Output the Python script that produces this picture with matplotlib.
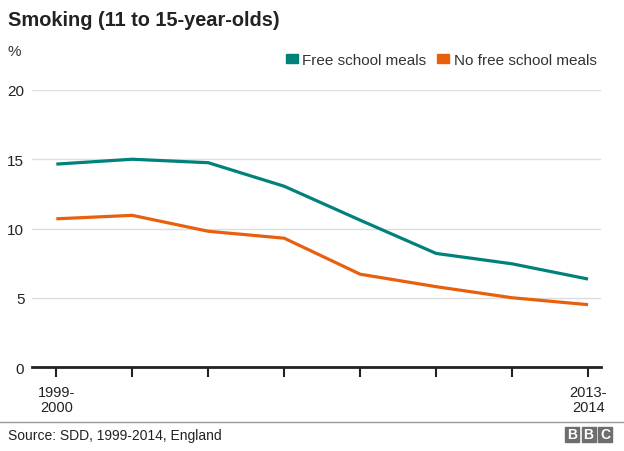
import matplotlib
matplotlib.use("Agg")
import matplotlib.pyplot as plt
from matplotlib.patches import Rectangle
from matplotlib.lines import Line2D

plt.rcParams["font.family"] = ["Liberation Sans", "DejaVu Sans"]

years = ["1999-\n2000", "", "", "", "", "", "", "2013-\n2014"]
free_meals = [14.65, 15.0, 14.75, 13.05, 10.6, 8.2, 7.45, 6.35]
no_free_meals = [10.7, 10.95, 9.8, 9.3, 6.7, 5.8, 5.0, 4.5]
teal = "#00827b"
orange = "#e8600e"

W, H = 624, 452
fig = plt.figure(figsize=(W / 100, H / 100), dpi=100)
ax = fig.add_axes([32 / W, 1 - 368 / H, (601 - 32) / W, (368 - 91) / H])

x = range(len(years))
ax.plot(x, free_meals, color=teal, lw=2.3, solid_capstyle="butt", label="Free school meals")
ax.plot(x, no_free_meals, color=orange, lw=2.3, solid_capstyle="butt", label="No free school meals")

ax.set_xlim(-0.32, 7.17)
ax.set_ylim(0, 20)
ax.set_yticks([0, 5, 10, 15, 20])
ax.set_xticks(list(x))
ax.set_xticklabels(years, fontsize=10.5, color="#222222", linespacing=1.1)
ax.grid(axis="y", color="#dddddd", lw=1)
ax.set_axisbelow(True)
for s in ["top", "right", "left"]:
    ax.spines[s].set_visible(False)
ax.spines["bottom"].set_linewidth(2)
ax.spines["bottom"].set_color("#222222")
ax.spines["bottom"].set_zorder(5)
ax.tick_params(axis="y", length=0, pad=5.5, labelsize=11, labelcolor="#222222")
ax.tick_params(axis="x", length=7, width=1.5, color="#222222", pad=6)

fig.text(8 / W, 1 - 20 / H, "Smoking (11 to 15-year-olds)", fontsize=14.4,
         fontweight="bold", color="#222222", va="center")
fig.text(8 / W, 1 - 52 / H, "%", fontsize=11, color="#333333", va="center")

handles = [Rectangle((0, 0), 1, 1, color=teal), Rectangle((0, 0), 1, 1, color=orange)]
fig.legend(handles, ["Free school meals", "No free school meals"],
           loc="center right", bbox_to_anchor=(603 / W, 1 - 61 / H),
           ncol=2, frameon=False, fontsize=11, handlelength=0.8, handleheight=0.45,
           handletextpad=0.3, columnspacing=0.7, borderaxespad=0,
           labelcolor="#333333")

fig.add_artist(Line2D([0, 1], [1 - 423 / H, 1 - 423 / H], color="#999999", lw=1))
fig.text(8 / W, 1 - 436 / H, "Source: SDD, 1999-2014, England", fontsize=10,
         color="#222222", va="center")
for i, letter in enumerate("BBC"):
    x0 = 565 + i * 16.5
    fig.add_artist(Rectangle((x0 / W, 1 - 443 / H), 14 / W, 15 / H,
                             transform=fig.transFigure, color="#6e6e6e"))
    fig.text((x0 + 7) / W, 1 - 435.5 / H, letter, fontsize=10, fontweight="bold",
             color="white", ha="center", va="center")

fig.savefig("out.png", dpi=100)
